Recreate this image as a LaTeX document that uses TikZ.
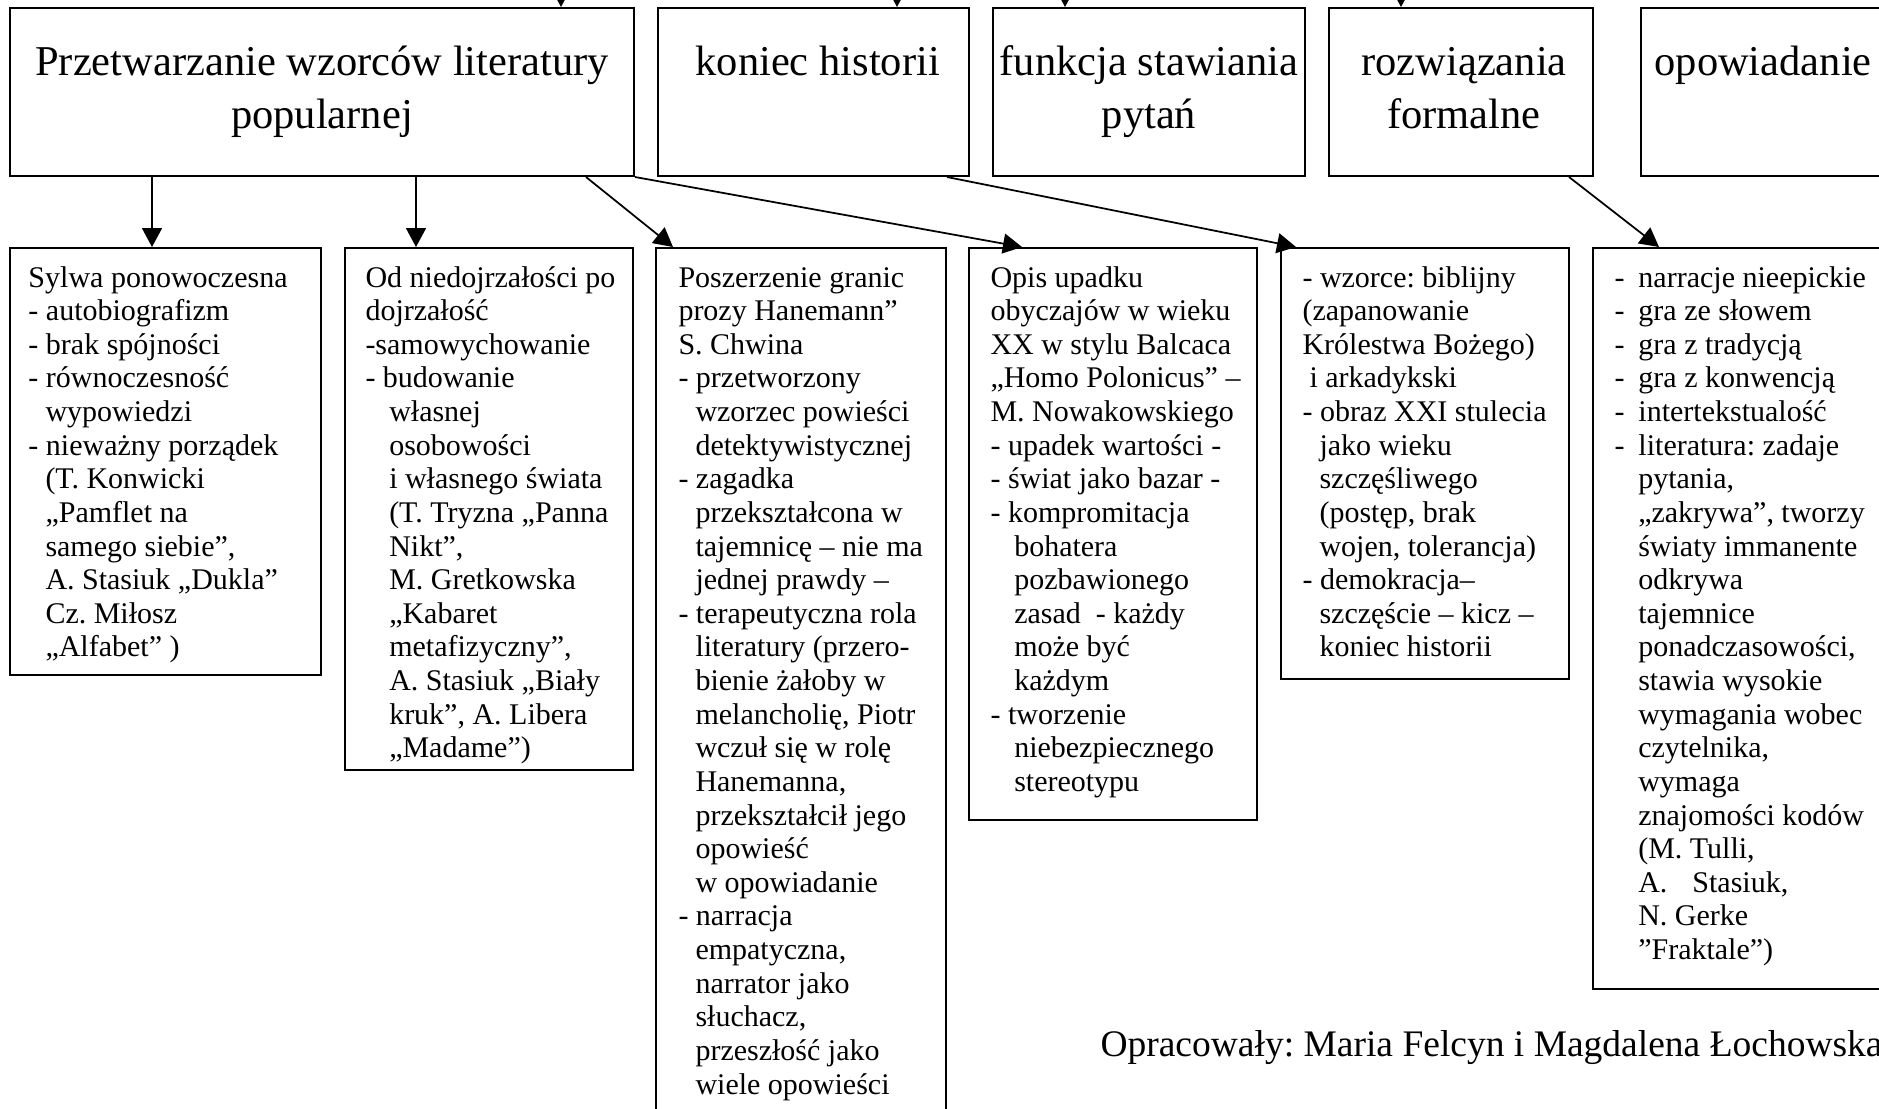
\documentclass[tikz,border=0pt]{standalone}
\usepackage{fontspec}
\setmainfont{Liberation Serif}
\usetikzlibrary{arrows.meta,fit,positioning}
\frenchspacing

\tikzset{
  box/.style={draw, line width=0.8pt, inner sep=0pt},
  head/.style={inner sep=0pt, anchor=north, align=center, font=\fontsize{17}{21.1}\selectfont},
  body/.style={inner sep=0pt, anchor=north west, align=left, font=\fontsize{12}{13.45}\selectfont},
  link/.style={line width=0.7pt, -{Triangle[length=7.6pt,width=8pt]}},
}
\newcommand{\ind}{\hspace*{6.8pt}}
\newcommand{\indd}{\hspace*{9.5pt}}
\newcommand{\bul}{\makebox[9.6pt][l]{-}}

\begin{document}
\begin{tikzpicture}[x=0.4pt,y=0.4pt,yscale=-1,xscale=1]
\useasboundingbox (0,0) rectangle (1879,1108);
\clip (0,0) rectangle (1879,1108);

%Top row
\node[box, fit={(10,8) (634,176)}] (przetw) {};
\node[box, fit={(658,8) (969,176)}] (koniec) {};
\node[box, fit={(993,8) (1305,176)}] (funkcja) {};
\node[box, fit={(1329,8) (1593,176)}] (rozw) {};
\node[box, fit={(1641,8) (1910,176)}] (opow) {};

% Text Node (first baseline at y=75)
\node[head] (przetwT) at (322,38) {\strut Przetwarzanie wzorców literatury\\popularnej};
\node[head, anchor=north west] (koniecT) at (695,38) {\strut koniec historii};
\node[head] (funkcjaT) at (1149,38) {\strut funkcja stawiania\\pytań};
\node[head] (rozwT) at (1464,38) {\strut rozwiązania\\formalne};
\node[head, anchor=north west] (opowT) at (1654,38) {\strut opowiadanie};

%Bottom row
\node[box, fit={(10,248) (321,675)}] (sylwa) {};
\node[box, fit={(345,248) (633,770)}] (dojrz) {};
\node[box, fit={(656,248) (946,1140)}] (hanem) {};
\node[box, fit={(969,248) (1257,820)}] (upadek) {};
\node[box, fit={(1281,248) (1569,679)}] (wzorce) {};
\node[box, fit={(1593,248) (1910,989)}] (narr) {};

% Text Node (first baseline at y=286)
\node[body] (sylwaT) at (28,263) {\strut Sylwa ponowoczesna\\
- autobiografizm\\
- brak spójności\\
- równoczesność\\
\ind wypowiedzi\\
- nieważny porządek\\
\ind(T. Konwicki\\
\ind„Pamflet na\\
\ind samego siebie”,\\
\ind A. Stasiuk „Dukla”\\
\ind Cz. Miłosz\\
\ind„Alfabet” )};

\node[body] (dojrzT) at (365,263) {\strut Od niedojrzałości po\\
dojrzałość\\
-samowychowanie\\
- budowanie\\
\indd własnej\\
\indd osobowości\\
\indd i własnego świata\\
\indd(T. Tryzna „Panna\\
\indd Nikt”,\\
\indd M. Gretkowska\\
\indd„Kabaret\\
\indd metafizyczny”,\\
\indd A. Stasiuk „Biały\\
\indd kruk”, A. Libera\\
\indd„Madame”)};

\node[body] (hanemT) at (678,263) {\strut Poszerzenie granic\\
prozy Hanemann”\\
S. Chwina\\
- przetworzony\\
\ind wzorzec powieści\\
\ind detektywistycznej\\
- zagadka\\
\ind przekształcona w\\
\ind tajemnicę – nie ma\\
\ind jednej prawdy –\\
- terapeutyczna rola\\
\ind literatury (przero-\\
\ind bienie żałoby w\\
\ind melancholię, Piotr\\
\ind wczuł się w rolę\\
\ind Hanemanna,\\
\ind przekształcił jego\\
\ind opowieść\\
\ind w opowiadanie\\
- narracja\\
\ind empatyczna,\\
\ind narrator jako\\
\ind słuchacz,\\
\ind przeszłość jako\\
\ind wiele opowieści};

\node[body] (upadekT) at (990,263) {\strut Opis upadku\\
obyczajów w wieku\\
XX w stylu Balcaca\\
„Homo Polonicus” –\\
M. Nowakowskiego\\
- upadek wartości -\\
- świat jako bazar -\\
- kompromitacja\\
\indd bohatera\\
\indd pozbawionego\\
\indd zasad~ - każdy\\
\indd może być\\
\indd każdym\\
- tworzenie\\
\indd niebezpiecznego\\
\indd stereotypu};

\node[body] (wzorceT) at (1302,263) {\strut - wzorce: biblijny\\
(zapanowanie\\
Królestwa Bożego)\\
\hspace*{2.8pt}i arkadykski\\
- obraz XXI stulecia\\
\ind jako wieku\\
\ind szczęśliwego\\
\ind(postęp, brak\\
\ind wojen, tolerancja)\\
- demokracja–\\
\ind szczęście – kicz –\\
\ind koniec historii};

\node[body] (narrT) at (1614,263) {\strut\bul narracje nieepickie\\
\bul gra ze słowem\\
\bul gra z tradycją\\
\bul gra z konwencją\\
\bul intertekstualość\\
\bul literatura: zadaje\\
\indd pytania,\\
\indd„zakrywa”, tworzy\\
\indd światy immanente\\
\indd odkrywa\\
\indd tajemnice\\
\indd ponadczasowości,\\
\indd stawia wysokie\\
\indd wymagania wobec\\
\indd czytelnika,\\
\indd wymaga\\
\indd znajomości kodów\\
\indd(M. Tulli,\\
\indd A.\hspace{10pt}Stasiuk,\\
\indd N. Gerke\\
\indd”Fraktale”)};

% Text Node
\node[inner sep=0pt, anchor=base west, font=\fontsize{15}{18}\selectfont] (autorzy) at (1100,1056) {Opracowały: Maria Felcyn i Magdalena Łochowska};

%Arrows from above
\coordinate (inP) at (561,-40);
\coordinate (inK) at (897,-40);
\coordinate (inF) at (1065,-40);
\coordinate (inR) at (1401,-40);
\draw[link] (inP) -- (przetw.north -| inP);
\draw[link] (inK) -- (koniec.north -| inK);
\draw[link] (inF) -- (funkcja.north -| inF);
\draw[link] (inR) -- (rozw.north -| inR);

%Arrows between rows
\coordinate (kS) at (152,0);
\coordinate (kD) at (416,0);
\coordinate (kH1) at (586,0);
\coordinate (kH2) at (673,0);
\coordinate (kU) at (1022,0);
\coordinate (kW1) at (947,0);
\coordinate (kW2) at (1296,0);
\coordinate (kN1) at (1569,0);
\coordinate (kN2) at (1659,0);
\draw[link] (przetw.south -| kS) -- (sylwa.north -| kS);
\draw[link] (przetw.south -| kD) -- (dojrz.north -| kD);
\draw[link] (przetw.south -| kH1) -- (hanem.north -| kH2);
\draw[link] (przetw.south east) -- (upadek.north -| kU);
\draw[link] (koniec.south -| kW1) -- (wzorce.north -| kW2);
\draw[link] (rozw.south -| kN1) -- (narr.north -| kN2);

\end{tikzpicture}
\end{document}
